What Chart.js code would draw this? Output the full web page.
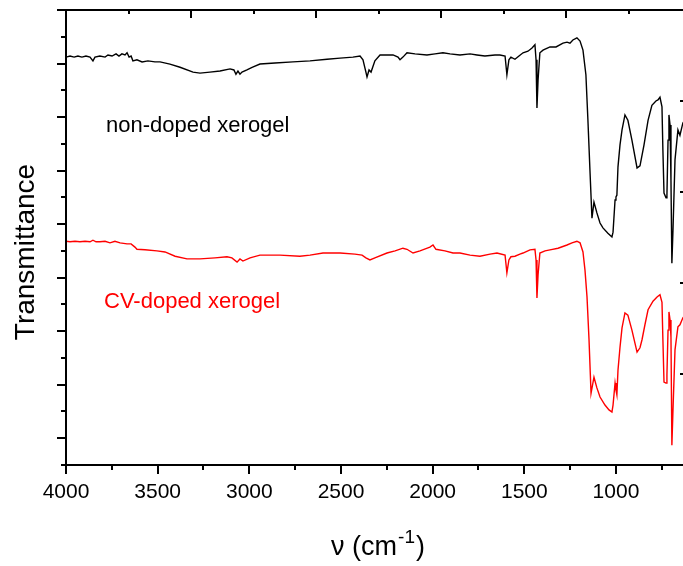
<!DOCTYPE html>
<html>
<head>
<meta charset="utf-8">
<script src="https://cdn.jsdelivr.net/npm/chart.js@4.4.1/dist/chart.umd.min.js"></script>
<style>
html, body { margin: 0; padding: 0; background: #fff; overflow: hidden; }
canvas { display: block; }
</style>
</head>
<body>
<canvas id="spectrum" width="700" height="566"></canvas>
<script>
// wavenumber (cm-1) and transmittance (a.u.)
var wnNonDoped = [4000, 3978, 3956, 3935, 3913, 3891, 3869, 3853, 3842, 3815, 3787, 3771, 3749, 3727, 3711, 3695, 3678, 3667, 3656, 3645,
    3635, 3613, 3585, 3553, 3515, 3487, 3433, 3378, 3307, 3269, 3215, 3160, 3105, 3084, 3073, 3062, 3051, 3040, 3013, 2985,
    2942, 2860, 2762, 2669, 2576, 2505, 2435, 2396, 2380, 2364, 2358, 2347, 2336, 2315, 2287, 2244, 2216, 2189, 2178, 2162,
    2140, 2096, 2031, 1987, 1944, 1905, 1851, 1796, 1758, 1715, 1660, 1633, 1605, 1595, 1584, 1573, 1551, 1529, 1507, 1480,
    1458, 1442, 1436, 1431, 1425, 1415, 1398, 1360, 1327, 1289, 1267, 1251, 1235, 1213, 1196, 1180, 1164, 1153, 1142, 1131,
    1120, 1104, 1087, 1071, 1044, 1022, 1016, 1005, 1000, 995, 989, 978, 967, 951, 935, 913, 885, 869, 847, 825,
    804, 782, 771, 760, 749, 744, 738, 727, 722, 716, 711, 705, 700, 695, 689, 678, 662, 651, 635, 618];
var tNonDoped = [76.2, 76.4, 76.2, 76.4, 76.2, 76.4, 76.2, 75.5, 76.2, 76.4, 76.2, 76.6, 76.4, 76.8, 76.4, 76.8, 76.6, 77.0, 76.2, 76.4,
    75.5, 75.7, 75.3, 75.5, 75.3, 75.3, 74.9, 74.3, 73.4, 73.2, 73.4, 73.6, 74.0, 73.8, 73.0, 73.6, 73.0, 73.4, 73.8, 74.3,
    74.9, 75.1, 75.3, 75.5, 75.8, 76.0, 76.2, 76.4, 75.7, 73.4, 72.5, 73.8, 73.4, 75.5, 76.6, 76.6, 76.6, 76.2, 75.7, 76.2,
    77.0, 76.8, 76.6, 76.8, 77.0, 76.8, 76.6, 76.8, 76.6, 76.4, 76.6, 76.6, 76.4, 72.9, 75.7, 76.2, 75.8, 76.4, 77.0, 77.3,
    77.9, 78.5, 75.7, 66.7, 71.9, 77.0, 77.5, 78.1, 78.1, 78.8, 79.0, 78.8, 79.4, 79.8, 79.2, 77.5, 72.9, 64.4, 55.1, 46.1,
    49.1, 47.1, 45.2, 44.3, 43.3, 42.6, 43.5, 49.5, 50.1, 50.4, 55.7, 59.8, 62.6, 65.4, 64.4, 60.7, 55.5, 55.9, 59.8, 64.4,
    67.2, 68.0, 68.2, 68.7, 66.9, 58.8, 50.8, 49.9, 50.4, 60.7, 65.4, 63.5, 53.2, 37.7, 43.9, 57.0, 62.6, 61.6, 63.9, 64.8];

var wnDoped = [4000, 3978, 3951, 3924, 3896, 3869, 3853, 3836, 3815, 3787, 3760, 3733, 3705, 3667, 3645, 3624, 3613, 3569, 3504, 3460,
    3405, 3340, 3269, 3187, 3122, 3095, 3067, 3051, 3035, 2996, 2942, 2833, 2724, 2669, 2598, 2505, 2424, 2385, 2364, 2342,
    2315, 2249, 2205, 2162, 2140, 2107, 2069, 2015, 1998, 1982, 1933, 1889, 1851, 1796, 1742, 1687, 1649, 1605, 1595, 1584,
    1573, 1551, 1524, 1507, 1469, 1442, 1436, 1431, 1425, 1415, 1387, 1360, 1316, 1267, 1240, 1213, 1196, 1180, 1169, 1158,
    1147, 1136, 1120, 1104, 1087, 1060, 1038, 1022, 1016, 1005, 1000, 995, 989, 978, 967, 951, 935, 913, 885, 869,
    858, 842, 825, 798, 776, 760, 749, 744, 738, 727, 722, 716, 711, 705, 700, 695, 689, 678, 662, 651,
    635, 618];
var tDoped = [41.8, 41.7, 41.8, 41.7, 41.8, 41.7, 42.0, 41.7, 41.7, 41.8, 41.5, 41.8, 41.5, 41.3, 41.3, 40.7, 40.3, 40.2, 40.0, 39.8,
    39.0, 38.5, 38.5, 38.7, 38.9, 38.7, 37.9, 38.5, 38.1, 38.7, 39.2, 39.2, 39.0, 39.2, 39.6, 39.6, 39.4, 39.2, 38.7, 38.3,
    38.7, 39.6, 40.0, 40.5, 40.3, 39.6, 40.0, 40.7, 41.1, 40.3, 40.0, 39.6, 39.6, 39.2, 39.0, 39.4, 39.6, 39.2, 35.9, 38.3,
    38.9, 39.0, 39.4, 39.6, 40.2, 40.3, 38.3, 31.2, 35.5, 39.6, 40.0, 40.2, 40.5, 41.1, 41.5, 41.8, 41.5, 39.8, 36.4, 31.4,
    23.4, 13.4, 16.4, 14.4, 12.7, 11.2, 10.3, 9.9, 11.2, 15.3, 14.0, 13.1, 17.7, 22.0, 25.6, 28.4, 28.0, 25.2, 21.1, 21.9,
    23.4, 26.2, 29.0, 30.6, 31.4, 31.8, 30.4, 23.4, 15.5, 15.3, 16.8, 25.2, 28.6, 27.1, 23.9, 3.7, 10.3, 21.5, 25.8, 26.2,
    27.5, 28.2];

var xLabelValues = [4000, 3500, 3000, 2500, 2000, 1500, 1000];
var seriesNames = ["non-doped xerogel", "CV-doped xerogel"];
var seriesColors = ["#000000", "#ff0000"];

var FONT = '"Liberation Sans", Arial, Helvetica, sans-serif';

function toPoints(xs, ys) {
    var pts = [];
    for (var i = 0; i < xs.length; i++) {
        pts.push({x: xs[i], y: ys[i]});
    }
    return pts;
}

// draws the frame, tick marks, tick labels, titles and curve labels
var framePlugin = {
    id: 'frame',
    afterDraw: function(chart) {
        var ctx = chart.ctx;
        var a = chart.chartArea;
        var x = chart.scales.x, y = chart.scales.y, x2 = chart.scales.x2, y2 = chart.scales.y2;
        ctx.save();
        ctx.strokeStyle = '#000';
        ctx.lineWidth = 2;

        // frame
        ctx.beginPath();
        ctx.moveTo(a.left, a.top); ctx.lineTo(a.right, a.top);
        ctx.moveTo(a.left, a.top - 1); ctx.lineTo(a.left, a.bottom + 1);
        ctx.moveTo(a.left, a.bottom); ctx.lineTo(a.right, a.bottom);
        ctx.moveTo(a.right, a.top); ctx.lineTo(a.right, a.bottom);
        ctx.stroke();

        ctx.beginPath();
        // bottom ticks, outward
        for (var v = 4000; v >= x.min; v -= 250) {
            var px = Math.round(x.getPixelForValue(v));
            var len = (v % 500 === 0) ? 9 : 5;
            ctx.moveTo(px, a.bottom); ctx.lineTo(px, a.bottom + len);
        }
        // left ticks, outward
        for (var t = 0; t <= y.max; t += 5) {
            var py = Math.round(y.getPixelForValue(t));
            var l = (t % 10 === 5) ? 9 : 5;
            ctx.moveTo(a.left, py); ctx.lineTo(a.left - l, py);
        }
        // top ticks, inward
        for (var k = 0.5; k <= x2.max; k += 0.5) {
            var qx = Math.round(x2.getPixelForValue(k));
            var m = (k % 1 === 0) ? 8 : 4;
            ctx.moveTo(qx, a.top); ctx.lineTo(qx, a.top + m);
        }
        // right ticks, inward
        for (var j = 1; j < y2.max; j++) {
            var qy = Math.round(y2.getPixelForValue(j));
            ctx.moveTo(a.right, qy); ctx.lineTo(a.right - 6, qy);
        }
        ctx.stroke();

        // tick labels
        ctx.fillStyle = '#000';
        ctx.font = '21px ' + FONT;
        ctx.textAlign = 'center';
        ctx.textBaseline = 'middle';
        xLabelValues.forEach(function(val) {
            ctx.fillText(String(val), x.getPixelForValue(val), 492);
        });

        // axis titles
        ctx.save();
        ctx.translate(26, 252);
        ctx.rotate(-Math.PI / 2);
        ctx.font = '28px ' + FONT;
        ctx.fillText('Transmittance', 0, 0);
        ctx.restore();

        ctx.textAlign = 'left';
        ctx.textBaseline = 'alphabetic';
        ctx.font = '27px ' + FONT;
        var main = '\u03bd (cm';
        var w1 = ctx.measureText(main).width;
        ctx.font = '19px ' + FONT;
        var w2 = ctx.measureText('-1').width;
        ctx.font = '27px ' + FONT;
        var w3 = ctx.measureText(')').width;
        var sx = 377 - (w1 + w2 + w3) / 2;
        ctx.fillText(main, sx, 555);
        ctx.font = '19px ' + FONT;
        ctx.fillText('-1', sx + w1 + 1, 543);
        ctx.font = '27px ' + FONT;
        ctx.fillText(')', sx + w1 + w2 + 2, 555);

        // curve labels
        ctx.font = '22px ' + FONT;
        ctx.textBaseline = 'middle';
        ctx.fillStyle = seriesColors[0];
        ctx.fillText(seriesNames[0], 106, 126);
        ctx.fillStyle = seriesColors[1];
        ctx.fillText(seriesNames[1], 104, 302);
        ctx.restore();
    }
};

var hidden = {
    grid: {display: false},
    border: {display: false},
    ticks: {display: false}
};

new Chart(document.getElementById('spectrum'), {
    type: 'line',
    data: {
        datasets: [
            {
                label: seriesNames[0],
                data: toPoints(wnNonDoped, tNonDoped),
                borderColor: seriesColors[0],
                borderWidth: 1.4,
                pointRadius: 0,
                tension: 0
            },
            {
                label: seriesNames[1],
                data: toPoints(wnDoped, tDoped),
                borderColor: seriesColors[1],
                borderWidth: 1.4,
                pointRadius: 0,
                tension: 0
            }
        ]
    },
    options: {
        responsive: false,
        animation: false,
        layout: {padding: 0},
        plugins: {legend: {display: false}, tooltip: {enabled: false}},
        scales: {
            x: Object.assign({type: 'linear', position: 'bottom', reverse: true, min: 618, max: 4000,
                afterFit: function(s) { s.height = 101; }}, hidden),
            x2: Object.assign({type: 'linear', position: 'top', min: 0, max: 4.96,
                afterFit: function(s) { s.height = 10; }}, hidden),
            y: Object.assign({type: 'linear', position: 'left', min: 0, max: 85,
                afterFit: function(s) { s.width = 66; }}, hidden),
            y2: Object.assign({type: 'linear', position: 'right', min: 0, max: 5,
                afterFit: function(s) { s.width = 14; }}, hidden)
        }
    },
    plugins: [framePlugin]
});
</script>
</body>
</html>
